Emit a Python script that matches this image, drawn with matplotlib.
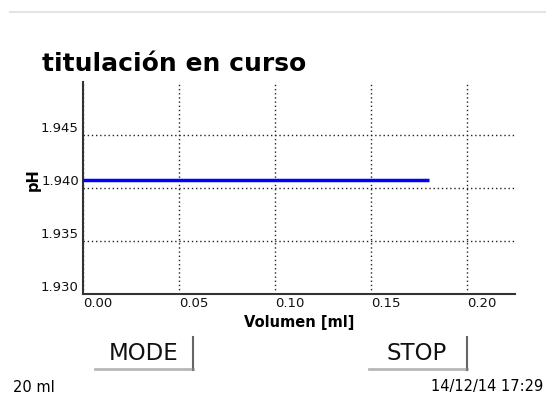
import matplotlib
matplotlib.use('Agg')
import matplotlib.pyplot as plt
from matplotlib.lines import Line2D

# datos de la titulación
volumen = [0.0, 0.18]
ph = [1.9408, 1.9408]

xticks = [0.00, 0.05, 0.10, 0.15, 0.20]
yticks = [1.930, 1.935, 1.940, 1.945]

titulo = "titulación en curso"
vol_total = "20 ml"
fecha = "14/12/14 17:29"
botones = ["MODE", "STOP"]

W, H = 546, 399
fig = plt.figure(figsize=(W / 100, H / 100), dpi=100)


def fx(px):
    return px / W


def fy(py):
    return 1 - py / H


ax = fig.add_axes([fx(83), fy(294), fx(515) - fx(83), fy(82) - fy(294)])

ax.plot(volumen, ph, color='#0000ff', linewidth=2.5, solid_capstyle='butt', zorder=3)

ax.set_xlim(0, 0.225)
ax.set_ylim(1.930, 1.950)
ax.set_xticks(xticks)
ax.set_yticks(yticks)
ax.set_xticklabels([f"{v:.2f}" for v in xticks], fontsize=9.5, ha='left', color='#111111')
ax.set_yticklabels([f"{v:.3f}" for v in yticks], fontsize=9.5, va='bottom', color='#111111')
ax.tick_params(length=0, pad=3)
ax.tick_params(axis='x', pad=2)

ax.grid(True, linestyle=(0, (1, 2)), color='#222222', linewidth=1)

for s in ['top', 'right']:
    ax.spines[s].set_visible(False)
for s in ['left', 'bottom']:
    ax.spines[s].set_color('#333333')
    ax.spines[s].set_linewidth(1.5)

ax.set_xlabel("Volumen [ml]", fontsize=10.5, fontweight='bold', labelpad=4)
ax.set_ylabel("pH", fontsize=10.5, fontweight='bold')
ax.yaxis.set_label_coords((41 - 83) / 432, 0.54)

# título
fig.text(fx(42), fy(64), titulo, fontsize=18, fontweight='bold', va='center', ha='left')

# línea gris superior
fig.add_artist(Line2D([fx(10), 1], [fy(12), fy(12)], color='#e4e4e4', linewidth=1.5))

# botones con sombra
for nombre, cx, borde in zip(botones, [144, 417], [193, 467]):
    fig.text(fx(cx), fy(354), nombre, fontsize=16.5, va='center', ha='center', color='#111111')
    fig.add_artist(Line2D([fx(borde), fx(borde)], [fy(337), fy(370)], color='#666666', linewidth=1.5))
    fig.add_artist(Line2D([fx(borde - 98), fx(borde)], [fy(369), fy(369)], color='#888888', linewidth=2, alpha=0.6))

fig.text(fx(13), fy(387), vol_total, fontsize=10.5, va='center', ha='left')
fig.text(fx(543), fy(387), fecha, fontsize=10.5, va='center', ha='right')

fig.savefig('out.png', dpi=100)
